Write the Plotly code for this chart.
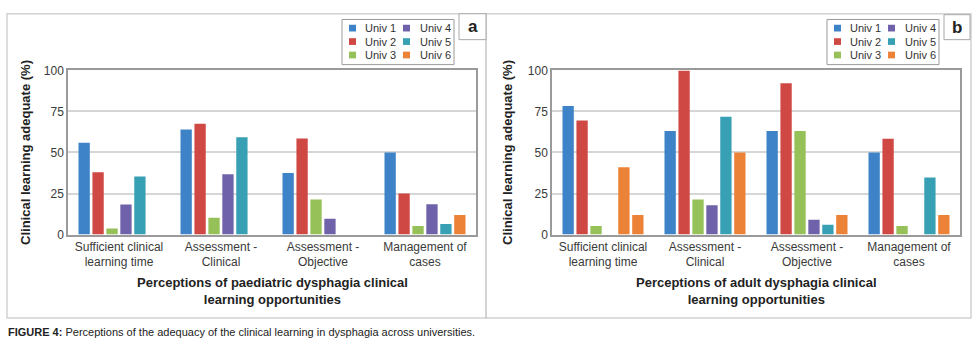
import plotly.graph_objects as go

# ---------------- data ----------------
categories = ["Sufficient clinical<br>learning time", "Assessment -<br>Clinical",
              "Assessment -<br>Objective", "Management of<br>cases"]
series_names = ["Univ 1", "Univ 2", "Univ 3", "Univ 4", "Univ 5", "Univ 6"]

# Panel a: paediatric dysphagia
paed_univ1 = [56, 64, 37.5, 50]
paed_univ2 = [38, 67.5, 58.5, 25]
paed_univ3 = [3.7, 10.3, 21.4, 5.2]
paed_univ4 = [18.3, 36.7, 9.7, 18.4]
paed_univ5 = [35.3, 59.2, 0, 6.4]
paed_univ6 = [0, 0, 0, 12]

# Panel b: adult dysphagia
adult_univ1 = [78.3, 63.1, 63.1, 50]
adult_univ2 = [69.5, 100, 92.2, 58.4]
adult_univ3 = [5.2, 21.4, 63.1, 5.2]
adult_univ4 = [0, 17.9, 9.1, 0]
adult_univ5 = [41, 71.7, 6, 34.8]
adult_univ6 = [12, 50, 12, 12]

y_ticks = [0, 25, 50, 75, 100]

colors = ["#3E82C8", "#D04844", "#96C058", "#7062AA", "#38A0B4", "#EC8238"]
# In the reference the first Univ 5 bar of panel b is drawn in orange
adult_univ5_colors = ["#EC8238", "#38A0B4", "#38A0B4", "#38A0B4"]

panel_a = [paed_univ1, paed_univ2, paed_univ3, paed_univ4, paed_univ5, paed_univ6]
panel_b = [adult_univ1, adult_univ2, adult_univ3, adult_univ4, adult_univ5, adult_univ6]

# ---------------- layout helpers ----------------
W, H = 980, 352
FONT = "Liberation Sans, Arial, sans-serif"


def X(px):
    return px / W


def Y(py):
    return 1 - py / H


fig = go.Figure()

for i, name in enumerate(series_names):
    fig.add_trace(go.Bar(x=categories, y=panel_a[i], name=name,
                         marker=dict(color=colors[i], line=dict(width=0)),
                         xaxis="x", yaxis="y", showlegend=False))
for i, name in enumerate(series_names):
    col = adult_univ5_colors if i == 4 else colors[i]
    fig.add_trace(go.Bar(x=categories, y=panel_b[i], name=name,
                         marker=dict(color=col, line=dict(width=0)),
                         xaxis="x2", yaxis="y2", showlegend=False))

axis_common = dict(showline=True, linecolor="#9a9a9a", linewidth=1.5, mirror=True,
                   ticks="", tickfont=dict(family=FONT, size=12, color="#3a3a3a"))

plot_top, plot_bot = 66, 237
panels = [dict(x0=68, x1=476, box=342, lab=(459, 486, 7, 34), letter="a",
               ytitle_x=26,
               xtitle="Perceptions of paediatric dysphagia clinical<br>learning opportunities"),
          dict(x0=552, x1=960, box=827, lab=(944, 970, 8, 34), letter="b",
               ytitle_x=508,
               xtitle="Perceptions of adult dysphagia clinical<br>learning opportunities")]

layout = dict(
    width=W, height=H, margin=dict(l=0, r=0, t=0, b=0),
    paper_bgcolor="white", plot_bgcolor="white",
    barmode="group", bargap=0.18, bargroupgap=0.19,
    font=dict(family=FONT, color="#333333"),
)

for k, p in enumerate(panels):
    sx = "" if k == 0 else "2"
    layout["xaxis" + sx] = dict(domain=[X(p["x0"]), X(p["x1"])], anchor="y" + sx,
                                showgrid=False, **axis_common)
    layout["yaxis" + sx] = dict(domain=[Y(plot_bot), Y(plot_top)], anchor="x" + sx,
                                range=[0, 100], tickvals=y_ticks, showgrid=True,
                                gridcolor="#d6d6d6", gridwidth=1.5, zeroline=False,
                                **axis_common)

shapes = []
annotations = []


def note(x, y, text, size, color="#222222", xa="center", ya="middle", angle=0):
    annotations.append(dict(xref="paper", yref="paper", x=X(x), y=Y(y), xanchor=xa,
                            yanchor=ya, text=text, showarrow=False, textangle=angle,
                            font=dict(family=FONT, size=size, color=color)))


# outer frame and divider
shapes.append(dict(type="rect", xref="paper", yref="paper", x0=X(7), x1=X(971), y0=Y(324), y1=Y(7),
                   line=dict(color="#d2d2d2", width=1.5)))
shapes.append(dict(type="line", xref="paper", yref="paper", x0=X(486), x1=X(486), y0=Y(324), y1=Y(7),
                   line=dict(color="#a8a8a8", width=1)))

for k, p in enumerate(panels):
    # panel label box
    lx0, lx1, ly0, ly1 = p["lab"]
    shapes.append(dict(type="rect", xref="paper", yref="paper", x0=X(lx0), x1=X(lx1),
                       y0=Y(ly1), y1=Y(ly0), line=dict(color="#a8a8a8", width=1),
                       fillcolor="white"))
    note((lx0 + lx1) / 2, (ly0 + ly1) / 2, "<b>%s</b>" % p["letter"], 17)
    # legend box
    bx = p["box"]
    shapes.append(dict(type="rect", xref="paper", yref="paper", x0=X(bx), x1=X(bx + 112),
                       y0=Y(60), y1=Y(13), line=dict(color="#9a9a9a", width=1)))
    for i, name in enumerate(series_names):
        colx = 0 if i < 3 else 1
        row = i % 3
        cy = 22 + 14 * row
        sw = bx + (7 if colx == 0 else 61)
        tx = bx + (21 if colx == 0 else 76)
        shapes.append(dict(type="rect", xref="paper", yref="paper", x0=X(sw), x1=X(sw + 7),
                           y0=Y(cy + 3.5), y1=Y(cy - 3.5), line=dict(width=0),
                           fillcolor=colors[i]))
        note(tx, cy, name, 11, color="#333333", xa="left")
    # axis titles
    note(p["ytitle_x"], 152, "<b>Clinical learning adequate (%)</b>", 13, angle=-90)
    note((p["x0"] + p["x1"]) / 2, 296, "<b>%s</b>" % p["xtitle"], 13)

# caption
note(6, 338, "<b>FIGURE 4:</b> Perceptions of the adequacy of the clinical learning in dysphagia across universities.",
     11, xa="left")

layout["shapes"] = shapes
layout["annotations"] = annotations
fig.update_layout(**layout)

fig.write_html("out.html", config={"displayModeBar": False},
               post_script="document.body.style.margin='0';")
